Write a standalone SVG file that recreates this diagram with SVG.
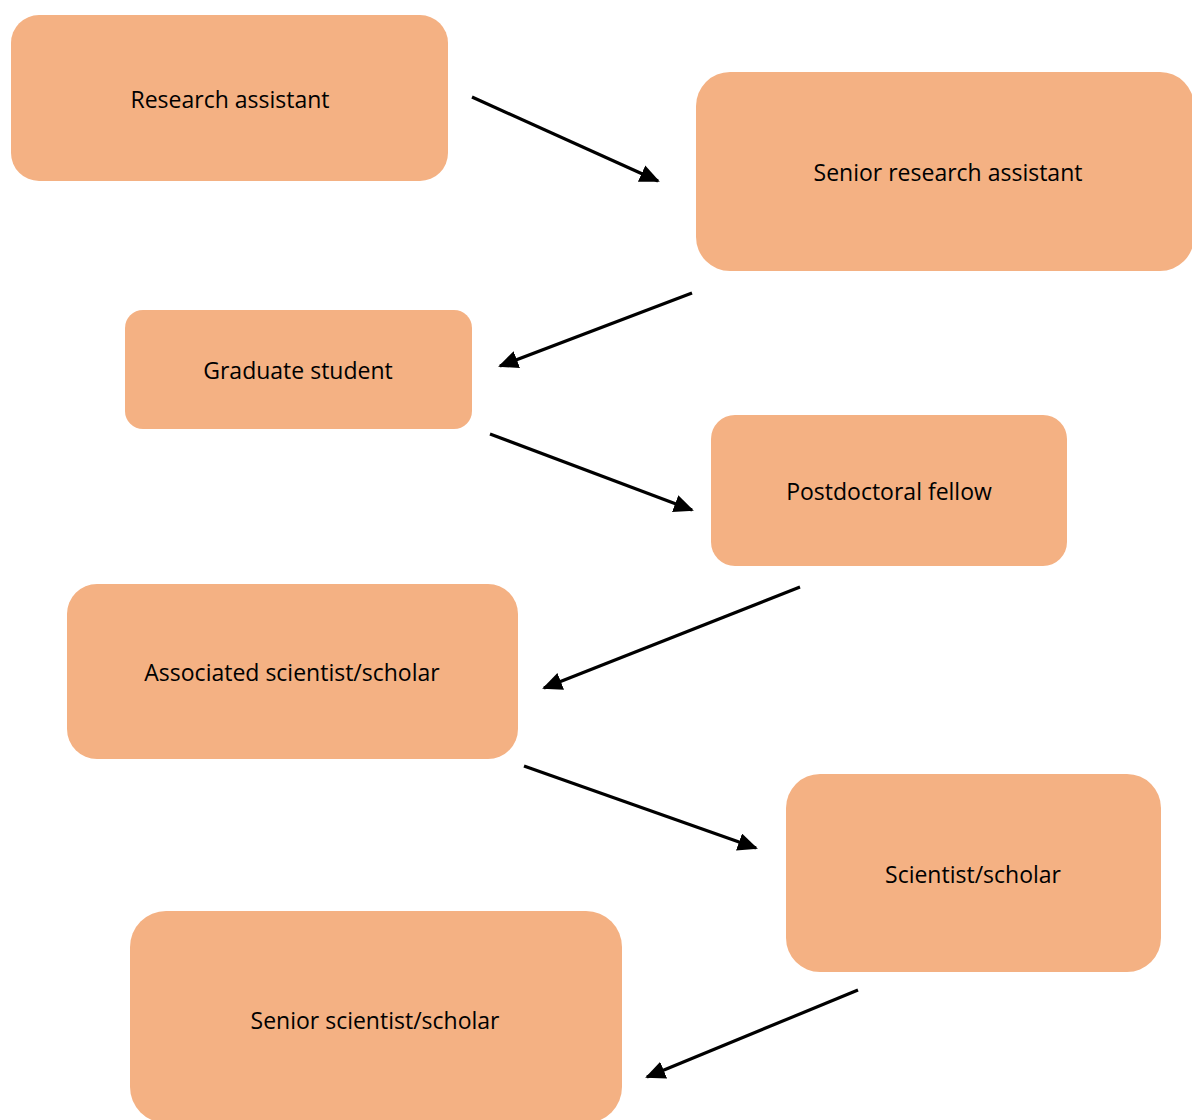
<svg xmlns="http://www.w3.org/2000/svg" width="1192" height="1120" viewBox="0 0 1192 1120">
<style>
.box{fill:#F4B183;}
.lbl{font-family:"Open Sans","Liberation Sans",sans-serif;font-size:23px;fill:#000;text-anchor:middle;dominant-baseline:central;}
.conn line{stroke:#000;stroke-width:3.2;marker-end:url(#ah);}
</style>
<defs>
<marker id="ah" markerUnits="userSpaceOnUse" markerWidth="20" markerHeight="18" refX="18" refY="9" orient="auto">
<path d="M0,0 L20,9 L0,18 Z" fill="#000"/>
</marker>
</defs>
<rect width="1192" height="1120" fill="#fff"/>
<g id="n1"><rect class="box" x="11" y="15" width="437" height="166" rx="28"/><text class="lbl" x="230" y="99">Research assistant</text></g>
<g id="n2"><rect class="box" x="696" y="72" width="498" height="199" rx="34"/><text class="lbl" x="948" y="172">Senior research assistant</text></g>
<g id="n3"><rect class="box" x="125" y="310" width="347" height="119" rx="18"/><text class="lbl" x="298" y="370">Graduate student</text></g>
<g id="n4"><rect class="box" x="711" y="415" width="356" height="151" rx="24"/><text class="lbl" x="889" y="491">Postdoctoral fellow</text></g>
<g id="n5"><rect class="box" x="67" y="584" width="451" height="175" rx="30"/><text class="lbl" x="292" y="672">Associated scientist/scholar</text></g>
<g id="n6"><rect class="box" x="786" y="774" width="375" height="198" rx="34"/><text class="lbl" x="973" y="874">Scientist/scholar</text></g>
<g id="n7"><rect class="box" x="130" y="911" width="492" height="212" rx="36"/><text class="lbl" x="375" y="1020">Senior scientist/scholar</text></g>
<g id="connectors" class="conn">
<line x1="472" y1="97" x2="658" y2="181"/>
<line x1="692" y1="293" x2="500" y2="366"/>
<line x1="490" y1="434" x2="692" y2="510"/>
<line x1="800" y1="587" x2="544" y2="688"/>
<line x1="524" y1="766" x2="756" y2="848"/>
<line x1="858" y1="990" x2="647" y2="1077"/>
</g>
</svg>
